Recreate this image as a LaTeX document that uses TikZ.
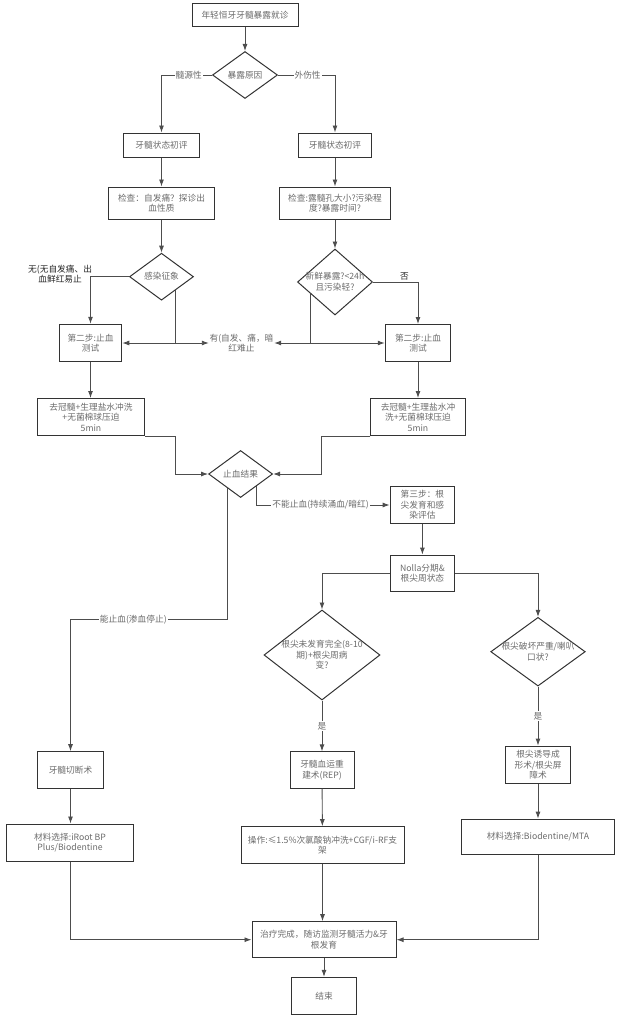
\documentclass[tikz,border=0pt]{standalone}
\usepackage{fontspec}
\newfontfamily\cjk{Noto Sans CJK SC}
\usepackage{tikz}
\usetikzlibrary{arrows.meta,shapes.geometric,calc}

\definecolor{edgegray}{HTML}{333333}
\definecolor{linegray}{HTML}{4D4D4D}
\definecolor{txtgray}{HTML}{6B6B6B}

\newcommand{\boxfont}{\cjk\fontsize{8.7}{10.5}\selectfont}
\newcommand{\dtext}[1]{\smash{\makebox[0pt]{\raisebox{-3.2pt}{\begin{tabular}[c]{@{}c@{}}#1\end{tabular}}}}}

\tikzset{
  box/.style={draw=edgegray, line width=1pt, rectangle, inner sep=1pt, align=center, text=txtgray, font=\boxfont},
  dia/.style={draw=edgegray, line width=1pt, diamond, inner sep=0pt, text=txtgray, font=\boxfont},
  plain/.style={inner sep=0pt, align=center, text=txtgray, font=\boxfont},
  conn/.style={draw=linegray, line width=0.9pt},
  arr/.style={conn, -{Latex[length=7pt,width=5pt]}},
  lbl/.style={fill=white, inner sep=1pt, text=txtgray, font=\boxfont},
  note/.style={inner sep=1pt, align=center, text=black!85, font=\boxfont},
}

\begin{document}
\begin{tikzpicture}[x=1pt,y=-1pt]
\useasboundingbox (0,0) rectangle (620,1020);

\node[box, minimum width=106, minimum height=23] (start) at (245,14.7) {年轻恒牙牙髓暴露就诊};
\node[dia, minimum width=65, minimum height=47] (cause) at (245,75) {\dtext{暴露原因}};
\node[box, minimum width=76, minimum height=24] (evalL) at (161.5,145) {牙髓状态初评};
\node[box, minimum width=73.5, minimum height=24] (evalR) at (335,145) {牙髓状态初评};
\node[box, minimum width=106, minimum height=32] (chkL) at (161.5,203) {检查：自发痛？探诊出\\血性质};
\node[box, minimum width=111, minimum height=32] (chkR) at (335,203) {检查:露髓孔大小?污染程\\度?暴露时间?};
\node[dia, minimum width=64, minimum height=47] (infect) at (161.5,276.7) {\dtext{感染征象}};
\node[dia, minimum width=75, minimum height=66] (fresh) at (335,282) {\dtext{新鲜暴露?<24h\\且污染轻?}};
\node[box, minimum width=62.5, minimum height=37.5] (stopL) at (90.5,343) {第二步:止血\\测试};
\node[box, minimum width=65.5, minimum height=37] (stopR) at (418,343) {第二步:止血\\测试};
\node[plain, minimum width=65] (signs) at (241.5,343) {有(自发、痛，暗\\红难止};
\node[box, minimum width=107.5, minimum height=37] (pulpL) at (91,417) {去冠髓+生理盐水冲洗\\+无菌棉球压迫\\5min};
\node[box, minimum width=94.5, minimum height=37] (pulpR) at (418,417) {去冠髓+生理盐水冲\\洗+无菌棉球压迫\\5min};
\node[dia, minimum width=64, minimum height=47] (result) at (240.6,474) {\dtext{止血结果}};
\node[box, minimum width=64.5, minimum height=36.6] (step3) at (422.4,505) {第三步：根\\尖发育和感\\染评估};
\node[box, minimum width=64.5, minimum height=36.7] (nolla) at (422.4,573.4) {Nolla分期\&\\根尖周状态};
\node[dia, minimum width=116, minimum height=90] (rootq) at (322,655) {\dtext{根尖未发育完全(8-10\\期)+根尖周病\\变?}};
\node[dia, minimum width=94.5, minimum height=68.7] (apexq) at (538,651.7) {\dtext{根尖破坏严重/喇叭\\口状?}};
\node[box, minimum width=66, minimum height=36.6] (pulpot) at (70.5,770) {牙髓切断术};
\node[box, minimum width=64, minimum height=36.3] (rep) at (322,770) {牙髓血运重\\建术(REP)};
\node[box, minimum width=65, minimum height=37.3] (apexif) at (538,764.7) {根尖诱导成\\形术/根尖屏\\障术};
\node[box, minimum width=127.5, minimum height=37] (matL) at (70,842.5) {材料选择:iRoot BP\\Plus/Biodentine};
\node[box, minimum width=163, minimum height=36.6] (oper) at (322.5,845) {操作:≤1.5\%次氯酸钠冲洗+CGF/i-RF支\\架};
\node[box, minimum width=152.5, minimum height=35.7] (matR) at (538,837) {材料选择:Biodentine/MTA};
\node[box, minimum width=144, minimum height=36] (done) at (324,939.7) {治疗完成，随访监测牙髓活力\&牙\\根发育};
\node[box, minimum width=65, minimum height=36.7] (end) at (324,995.7) {结束};

\draw[arr] (start) -- (cause);
\draw[arr] (cause.west) -| node[lbl, pos=0.23] {髓源性} (evalL.north);
\draw[arr] (cause.east) -| node[lbl, pos=0.26] {外伤性} (evalR.north);
\draw[arr] (evalL) -- (chkL);
\draw[arr] (evalR) -- (chkR);
\draw[arr] (chkL) -- (infect);
\draw[arr] (chkR) -- (fresh);

\draw[arr] (infect.west) -| node[note, pos=0.5, anchor=east, xshift=3, yshift=2.7] {无(无自发痛、出\\血鲜红易止} (stopL.north);
\coordinate (jL) at ($(infect.east)!0.56!(infect.south)$);
\coordinate (kL) at (jL |- stopL.east);
\draw[conn] (jL) -- (kL);
\draw[arr] (kL) -- (stopL.east);
\draw[arr] (kL) -- (signs.west);

\draw[arr] (fresh.east) -| node[note, pos=0.35, above] {否} (stopR.north);
\coordinate (jR) at ($(fresh.west)!0.36!(fresh.south)$);
\coordinate (kR) at (jR |- stopR.west);
\draw[conn] (jR) -- (kR);
\draw[arr] (kR) -- (signs.east);
\draw[arr] (kR) -- (stopR.west);

\draw[arr] (stopL.south) -- (stopL.south |- pulpL.north);
\draw[arr] (stopR) -- (pulpR);
\draw[arr] (pulpL.south east) -- (pulpL.south east -| kL) |- (result.west);
\draw[arr] (pulpR.south west) -- ++(-48.5,0) |- (result.east);

\coordinate (rR) at ($(result.east)!0.5!(result.south)$);
\draw[arr] (rR) |- node[lbl, pos=0.74] {不能止血(持续涌血/暗红)} (step3.west);
\draw[arr] (step3) -- (nolla);
\draw[arr] (nolla.west) -| (rootq.north);
\draw[arr] (nolla.east) -| (apexq.north);

\coordinate (rL) at ($(result.south)!0.4!(result.west)$);
\coordinate (bend) at (70.5,619.3);
\draw[arr] (rL) |- (bend) node[lbl, pos=0.8] {能止血(渗血停止)} -- (pulpot.north);

\draw[arr] (pulpot.south) -- (pulpot.south |- matL.north);
\draw[arr] (rootq.south) -- node[lbl] {是} (rep.north);
\draw[arr] (apexq.south) -- node[lbl] {是} (apexif.north);
\draw[arr] (rep) -- (oper);
\draw[arr] (apexif) -- (matR);
\draw[arr] (matL.south) |- (done.west);
\draw[arr] (oper.south) -- (oper.south |- done.north);
\draw[arr] (matR.south) |- (done.east);
\draw[arr] (done) -- (end);
\end{tikzpicture}
\end{document}
